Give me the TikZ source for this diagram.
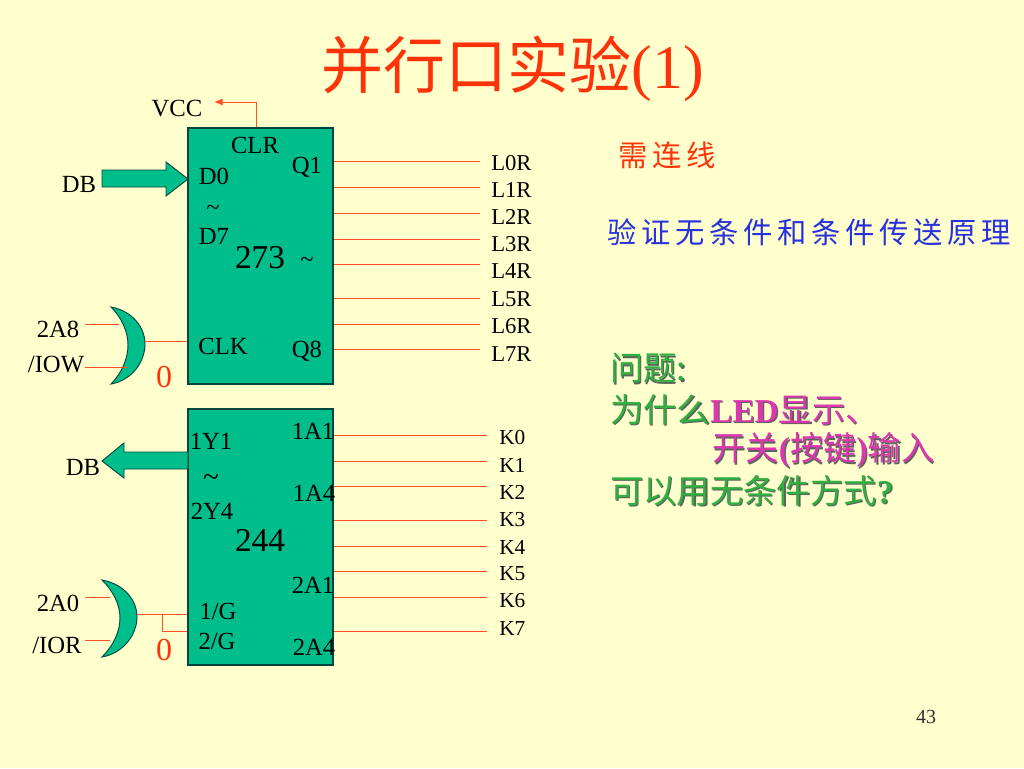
\documentclass[tikz,border=0pt]{standalone}
\usepackage{fontspec}
\setmainfont{Liberation Serif}
\newfontfamily\cjk{Noto Sans CJK SC}
\newfontfamily\cjkwide[LetterSpace=16]{Noto Sans CJK SC}
\usetikzlibrary{arrows.meta,positioning}
\definecolor{bgyellow}{RGB}{255,255,206}
\definecolor{chipgreen}{RGB}{0,190,140}
\definecolor{chipline}{RGB}{0,70,60}
\definecolor{wirered}{RGB}{255,80,40}
\definecolor{titlered}{RGB}{255,51,10}
\definecolor{textblue}{RGB}{40,50,220}
\definecolor{askgreen}{RGB}{50,175,65}
\definecolor{askpink}{RGB}{220,55,175}
\definecolor{shadowgrey}{RGB}{90,100,90}
\newcommand{\shtext}[2]{\makebox[0pt][l]{\kern0.9pt\raisebox{-0.9pt}{\textcolor{shadowgrey}{#2}}}\textcolor{#1}{#2}}
\newcommand{\fs}[1]{\fontsize{#1}{#1}\selectfont}
\tikzset{
  chip/.style={draw=chipline,fill=chipgreen,line width=0.8pt,minimum width=108.75pt,minimum height=192pt,inner sep=0pt},
  gate/.style={draw=chipline,fill=chipgreen,line width=0.7pt},
  wire/.style={draw=wirered,line width=0.75pt},
  pin/.style={inner sep=0pt,font=\fs{18.5}},
  outlabel/.style={inner sep=0pt,anchor=west,font=\fs{16}},
  bignum/.style={inner sep=0pt,font=\fs{25}},
  zero/.style={inner sep=0pt,text=titlered,font=\fs{24}},
  askline/.style={inner sep=0pt,anchor=west,font=\fs{25}\cjk},
}
\begin{document}
\begin{tikzpicture}[x=0.75pt,y=-0.75pt]
  \fill[bgyellow] (0,0) rectangle (1024,768);
  \useasboundingbox (0,0) rectangle (1024,768);

  \node[inner sep=0pt,text=titlered,font=\fs{46.5}] (title) at (513,69) {{\cjk 并行口实验}(1)};
  \node[inner sep=0pt,text=titlered,font=\fs{22},anchor=west] (need) at (618,155) {\cjkwide 需连线};
  \node[inner sep=0pt,text=textblue,font=\fs{22},anchor=west] (verify) at (607,232) {\cjkwide 验证无条件和条件传送原理};
  \node[askline] (ask1) at (610,369) {\shtext{askgreen}{问题:}};
  \node[askline] (ask2) at (610,410) {\shtext{askgreen}{为什么}\shtext{askpink}{{\rmfamily\bfseries LED}显示、}};
  \node[askline] (ask3) at (712,451) {\shtext{askpink}{开关{\rmfamily\bfseries (}按键{\rmfamily\bfseries )}输入}};
  \node[askline] (ask4) at (610,491) {\shtext{askgreen}{可以用无条件方式{\rmfamily\bfseries ?}}};
  \node[inner sep=0pt,font=\fs{15},text=black!80] (page) at (926,717) {43};

  % 273
  \node[chip] (chipa) at (260.5,256) {};
  \node[pin] (vcc) at (177,109) {VCC};
  \node[pin] (clr) at (255,145) {CLR};
  \node[pin] (d0) at (214,176) {D0};
  \node[pin] (tila) at (213,210) {\~{}};
  \node[pin] (d7) at (214,236) {D7};
  \node[pin] (q1) at (307,167) {Q1};
  \node[bignum] (num273) at (260,258) {273};
  \node[pin] (tilb) at (307,262) {\~{}};
  \node[pin] (clk) at (223,346) {CLK};
  \node[pin] (q8) at (307,351) {Q8};
  \node[pin] (dba) at (79,184) {DB};
  \node[pin] (a8) at (58,329) {2A8};
  \node[pin] (iow) at (56,365) {/IOW};
  \node[zero] (zeroa) at (164,377) {0};

  \coordinate (vccup) at (256,102);
  \coordinate (vccend) at (214,102);
  \draw[wire,-{Latex[length=6.5pt,width=5.5pt]}] (chipa.north -| vccup) -- (vccup) -- (vccend);

  \draw[gate] (102,170) -- (166,170) -- (166,162) -- (188,179) -- (166,196) -- (166,187) -- (102,187) -- cycle;

  \draw[gate] (111,307) .. controls (133,311) and (145,328) .. (145,344) .. controls (145,361) and (133,380) .. (111,384)
    .. controls (122,373) and (128,358) .. (128,345) .. controls (128,332) and (122,318) .. (111,307) -- cycle;
  \coordinate (gaout) at (145,341);
  \coordinate (gaa) at (119,324);
  \coordinate (gab) at (128,367);
  \draw[wire] (gaout) -- (gaout -| chipa.west);
  \draw[wire] (85,324) -- (gaa);
  \draw[wire] (85,367) -- (gab);

  \foreach \i/\y/\ly in {0/161/163,1/187/190,2/213/217,3/239/244,4/264/271,5/298/299,6/324/326,7/349/354}{
    \node[outlabel,font=\fs{17}] (l\i) at (491,\ly) {L\i R};
    \coordinate (le\i) at (480,\y);
    \draw[wire] (le\i -| chipa.east) -- (le\i);
  }

  % 244
  \node[chip] (chipb) at (260.5,537) {};
  \node[pin] (y1) at (211,441) {1Y1};
  \node[pin,font=\fs{22}] (tilc) at (211,480) {\~{}};
  \node[pin] (y4) at (212,511) {2Y4};
  \node[pin] (a1) at (313,431) {1A1};
  \node[pin] (a4) at (314,493) {1A4};
  \node[bignum] (num244) at (260,540) {244};
  \node[pin] (b1) at (313,585) {2A1};
  \node[pin] (b4) at (314,647) {2A4};
  \node[pin] (ga) at (218,611) {1/G};
  \node[pin] (gb) at (217,641) {2/G};
  \node[pin] (dbb) at (83,467) {DB};
  \node[pin] (a0) at (58,603) {2A0};
  \node[pin] (ior) at (57,645) {/IOR};
  \node[zero] (zerob) at (164,650) {0};

  \draw[gate] (188,452) -- (124,452) -- (124,443) -- (102,461) -- (124,478) -- (124,469) -- (188,469) -- cycle;

  \draw[gate] (102,580) .. controls (124,584) and (137,600) .. (137,617) .. controls (137,634) and (124,653) .. (102,657)
    .. controls (113,646) and (120,632) .. (120,618) .. controls (120,604) and (113,591) .. (102,580) -- cycle;
  \coordinate (gbout) at (137,614);
  \coordinate (gbtap) at (162,614);
  \coordinate (gbdown) at (162,631);
  \draw[wire] (gbout) -- (gbout -| chipb.west);
  \draw[wire] (gbtap) -- (gbdown) -- (gbdown -| chipb.west);
  \draw[wire] (85,597) -- (110,597);
  \draw[wire] (85,640) -- (110,640);

  \foreach \i/\y/\ly in {0/435/438,1/461/465,2/486/492,3/520/520,4/546/547,5/571/574,6/597/601,7/631/629}{
    \node[outlabel] (k\i) at (499,\ly) {K\i};
    \coordinate (ke\i) at (487,\y);
    \draw[wire] (ke\i -| chipb.east) -- (ke\i);
  }
\end{tikzpicture}
\end{document}
